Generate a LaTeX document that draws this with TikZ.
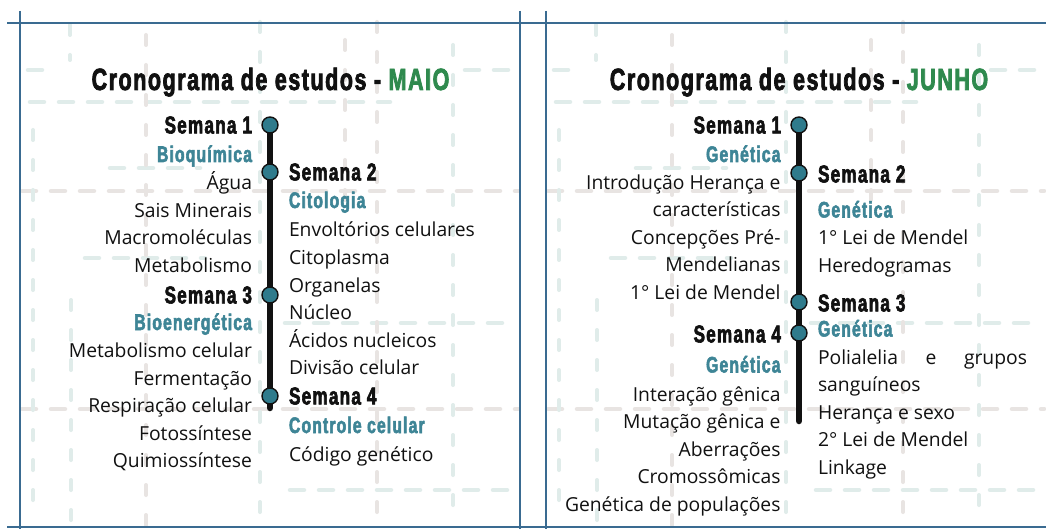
\documentclass[tikz,border=0pt]{standalone}
\usepackage{fontspec}
\setmainfont{Open Sans}
\newfontfamily\headfont[FakeStretch=0.70, LetterSpace=5, FakeBold=2.4]{Liberation Sans}
\usetikzlibrary{positioning}
\definecolor{clrframe}{HTML}{3A6B91}
\definecolor{clrtext}{HTML}{111111}
\definecolor{clrtopic}{HTML}{3E8596}
\definecolor{clrdot}{HTML}{2F7B8C}
\definecolor{clrmonth}{HTML}{2F8A4E}
\definecolor{clrdashteal}{HTML}{E0ECEA}
\definecolor{clrdashgray}{HTML}{E8E4E2}

% light dashed grid behind one panel
\newcommand{\paneldashes}[1]{%
  \begin{scope}[xshift=#1]
    \draw[dashteal] (28,70) -- (52,70);
    \draw[dashteal] (465,70) -- (512,70);
    \draw[dashteal] (30,102) -- (390,102);
    \draw[dashteal] (110,168) -- (200,168);
    \draw[dashteal] (85,258) -- (205,258);
    \draw[dashteal] (285,323) -- (512,323);
    \draw[dashteal] (290,490) -- (512,490);
    \draw[dashgray] (22,191) -- (518,191);
    \draw[dashgray] (22,409) -- (518,409);
    \draw[vdashteal] (33,130) -- (33,500);
    \draw[vdashteal] (70,25) -- (70,60);
    \draw[vdashteal] (71,300) -- (71,525);
    \draw[vdashteal] (260,22) -- (260,525);
    \draw[vdashteal] (453,45) -- (453,525);
    \draw[vdashgray] (146,35) -- (146,525);
    \draw[vdashgray] (345,40) -- (345,200);
    \draw[vdashgray] (377,22) -- (377,525);
  \end{scope}}

\begin{document}
\begin{tikzpicture}[
    x=1pt, y=-1pt,
    every node/.style={inner sep=0pt, outer sep=0pt},
    frame/.style={draw=clrframe, line width=2pt},
    dashteal/.style={draw=clrdashteal, line width=4.5pt, line cap=round, dash pattern=on 14pt off 15pt},
    dashgray/.style={draw=clrdashgray, line width=4.5pt, line cap=round, dash pattern=on 14pt off 15pt},
    vdashteal/.style={draw=clrdashteal, line width=4pt, line cap=round, dash pattern=on 10pt off 20pt},
    vdashgray/.style={draw=clrdashgray, line width=4pt, line cap=round, dash pattern=on 10pt off 20pt},
    title/.style={font=\headfont\bfseries\fontsize{30.7}{36}\selectfont, text=clrtext},
    week/.style={font=\headfont\bfseries\fontsize{24.5}{28}\selectfont, text=clrtext},
    topic/.style={font=\headfont\bfseries\fontsize{22.5}{26}\selectfont, text=clrtopic},
    item/.style={font=\fontsize{19.3}{27.5}\selectfont, text=clrtext},
    dot/.style={circle, draw=clrtext, line width=1.4pt, fill=clrdot, minimum size=16pt},
    timeline/.style={draw=clrtext, line width=6.5pt, line cap=round},
]
\fill[white] (0,0) rectangle (1046,529);
\useasboundingbox (0,0) rectangle (1046,529);
\paneldashes{0pt}
\paneldashes{526pt}

% frames
\draw[frame] (7,23) -- (1046,23);
\draw[frame] (7,527) -- (1046,527);
\draw[frame] (20,11) -- (20,529);
\draw[frame] (520,11) -- (520,529);
\draw[frame] (546,11) -- (546,529);

% ---------- MAIO ----------
\node[title, anchor=base] (may_title) at (270.5,90) {Cronograma de estudos - \textcolor{clrmonth}{MAIO}};
\coordinate (may_c1) at (270,125);
\coordinate (may_c2) at (270,172);
\coordinate (may_c3) at (270,295);
\coordinate (may_c4) at (270,396);
\coordinate (may_end) at (270,408);
\draw[timeline] (may_c1) -- (may_end);
\node[dot] (may_d1) at (may_c1) {};
\node[dot] (may_d2) at (may_c2) {};
\node[dot] (may_d3) at (may_c3) {};
\node[dot] (may_d4) at (may_c4) {};
\node[week, left=10pt of may_d1] (may_w1) {Semana 1};
\node[week, right=11pt of may_d2] (may_w2) {Semana 2};
\node[week, left=10pt of may_d3] (may_w3) {Semana 3};
\node[week, right=11pt of may_d4] (may_w4) {Semana 4};
\node[topic, anchor=base east] (may_t1) at (252,162) {Bioquímica};
\node[topic, anchor=base west] (may_t2) at (289,208) {Citologia};
\node[topic, anchor=base east] (may_t3) at (252,330) {Bioenergética};
\node[topic, anchor=base west] (may_t4) at (289,433) {Controle celular};
\foreach \txt [count=\k from 0] in {Água, Sais Minerais, Macromoléculas, Metabolismo}
  \node[item, anchor=base east] (may_i1_\k) at (252,190+27.5*\k) {\txt};
\foreach \txt [count=\k from 0] in {Envoltórios celulares, Citoplasma, Organelas, Núcleo, Ácidos nucleicos, Divisão celular}
  \node[item, anchor=base west] (may_i2_\k) at (289,237+27.5*\k) {\txt};
\foreach \txt [count=\k from 0] in {Metabolismo celular, Fermentação, Respiração celular, Fotossíntese, Quimiossíntese}
  \node[item, anchor=base east] (may_i3_\k) at (252,357.5+27.5*\k) {\txt};
\node[item, anchor=base west] (may_i4_0) at (289,461) {Código genético};

% ---------- JUNHO ----------
\node[title, anchor=base] (jun_title) at (799,90) {Cronograma de estudos - \textcolor{clrmonth}{JUNHO}};
\coordinate (jun_c1) at (799,125);
\coordinate (jun_c2) at (799,173);
\coordinate (jun_c3) at (799,302);
\coordinate (jun_c4) at (799,333);
\coordinate (jun_end) at (799,421);
\draw[timeline] (jun_c1) -- (jun_end);
\node[dot] (jun_d1) at (jun_c1) {};
\node[dot] (jun_d2) at (jun_c2) {};
\node[dot] (jun_d3) at (jun_c3) {};
\node[dot] (jun_d4) at (jun_c4) {};
\node[week, left=10pt of jun_d1] (jun_w1) {Semana 1};
\node[week, right=11pt of jun_d2, yshift=-1pt] (jun_w2) {Semana 2};
\node[week, right=11pt of jun_d3, yshift=-1pt] (jun_w3) {Semana 3};
\node[week, left=10pt of jun_d4, yshift=-1pt] (jun_w4) {Semana 4};
\node[topic, anchor=base east] (jun_t1) at (780.5,162) {Genética};
\node[topic, anchor=base west] (jun_t2) at (818,217.5) {Genética};
\node[topic, anchor=base west] (jun_t3) at (818,336.5) {Genética};
\node[topic, anchor=base east] (jun_t4) at (780.5,372.5) {Genética};
\foreach \txt [count=\k from 0] in {Introdução Herança e, características, Concepções Pré-, Mendelianas, 1° Lei de Mendel}
  \node[item, anchor=base east] (jun_i1_\k) at (780.5,189.5+27.5*\k) {\txt};
\foreach \txt [count=\k from 0] in {1° Lei de Mendel, Heredogramas}
  \node[item, anchor=base west] (jun_i2_\k) at (818,245+27.5*\k) {\txt};
\foreach \txt [count=\k from 0] in {\makebox[209pt][s]{Polialelia e grupos}, sanguíneos, Herança e sexo, 2° Lei de Mendel, Linkage}
  \node[item, anchor=base west] (jun_i3_\k) at (818,364+27.5*\k) {\txt};
\foreach \txt [count=\k from 0] in {Interação gênica, Mutação gênica e, Aberrações, Cromossômicas, Genética de populações}
  \node[item, anchor=base east] (jun_i4_\k) at (780.5,401+27.5*\k) {\txt};
\end{tikzpicture}
\end{document}
